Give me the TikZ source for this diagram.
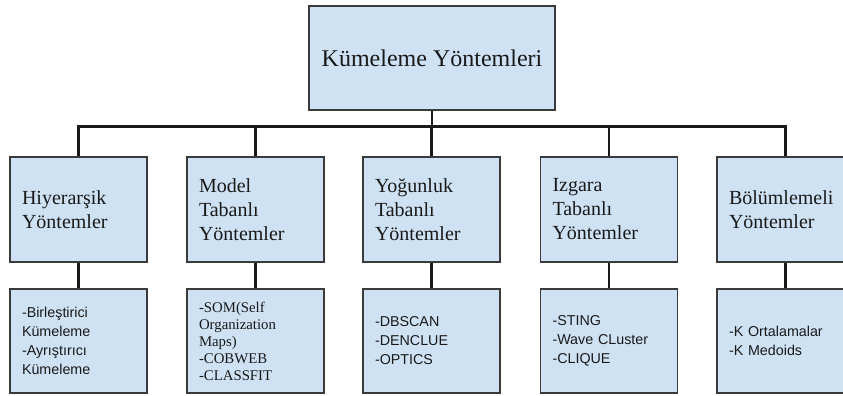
\documentclass[tikz,border=0pt]{standalone}
\usepackage{fontspec}
\setmainfont{Liberation Serif}
\newfontfamily\listfont{Liberation Sans}
\definecolor{boxblue}{HTML}{CFE2F3}
\definecolor{boxline}{HTML}{3A3A3A}
\begin{document}
\begin{tikzpicture}[x=1pt,y=-1pt,line width=2pt]
	\def \rowtop{58}
	\def \barlevel{126.5}
	\def \rowmid{209.5}
	\def \rowbot{341}
	\tikzstyle{root-node}=[rectangle,draw=boxline,fill=boxblue,line width=1.6pt,text=black!90,minimum width=246pt,minimum height=104pt,font=\fontsize{24}{28}\selectfont]
	\tikzstyle{cat-node}=[rectangle,draw=boxline,fill=boxblue,line width=1.6pt,text=black!90,minimum height=105pt,inner xsep=12pt,text width=113pt,align=left,font=\fontsize{20}{24}\selectfont]
	\tikzstyle{alg-node}=[cat-node,minimum height=104pt,font=\listfont\fontsize{14.3}{19}\selectfont]
	\tikzstyle{alg-serif}=[alg-node,font=\fontsize{14.8}{17}\selectfont]
	\tikzstyle{link}=[draw=black!90,line width=2.5pt]
	\useasboundingbox (0,0) rectangle (843,396);
	% root
	\node[root-node] 	(root)	at (432,\rowtop)	{Kümeleme Yöntemleri};
	\coordinate (bar) at (432,\barlevel);
	
	% method families
	\node[cat-node] 	(c0)	at (78.5,\rowmid)	{Hiyerarşik\\Yöntemler};
	\node[cat-node] 	(c1)	at (255.5,\rowmid)	{Model\\Tabanlı\\Yöntemler};
	\node[cat-node] 	(c2)	at (431.5,\rowmid)	{Yoğunluk\\Tabanlı\\Yöntemler};
	\node[cat-node] 	(c3)	at (609,\rowmid)	{Izgara\\Tabanlı\\Yöntemler};
	\node[cat-node] 	(c4)	at (785.5,\rowmid)	{Bölümlemeli\\Yöntemler};
	
	% algorithms
	\node[alg-node] 	(a0)	at (78.5,\rowbot)	{-Birleştirici\\Kümeleme\\-Ayrıştırıcı\\Kümeleme};
	\node[alg-serif] 	(a1)	at (255.5,\rowbot)	{-SOM(Self\\Organization\\Maps)\\-COBWEB\\-CLASSFIT};
	\node[alg-node] 	(a2)	at (431.5,\rowbot)	{-DBSCAN\\-DENCLUE\\-OPTICS};
	\node[alg-node] 	(a3)	at (609,\rowbot)	{-STING\\-Wave CLuster\\-CLIQUE};
	\node[alg-node] 	(a4)	at (785.5,\rowbot)	{-K Ortalamalar\\-K Medoids};
	
	\draw[link] (root.south) -- (bar);
	\draw[link] (bar) -| (c0.north);
	\draw[link] (bar) -| (c1.north);
	\draw[link] (bar) -| (c2.north);
	\draw[link] (bar) -| (c3.north);
	\draw[link] (bar) -| (c4.north);
	
	\path[link]
		(c0.south)	edge	(a0.north)
		(c1.south)	edge	(a1.north)
		(c2.south)	edge	(a2.north)
		(c3.south)	edge	(a3.north)
		(c4.south)	edge	(a4.north);
\end{tikzpicture}
\end{document}
